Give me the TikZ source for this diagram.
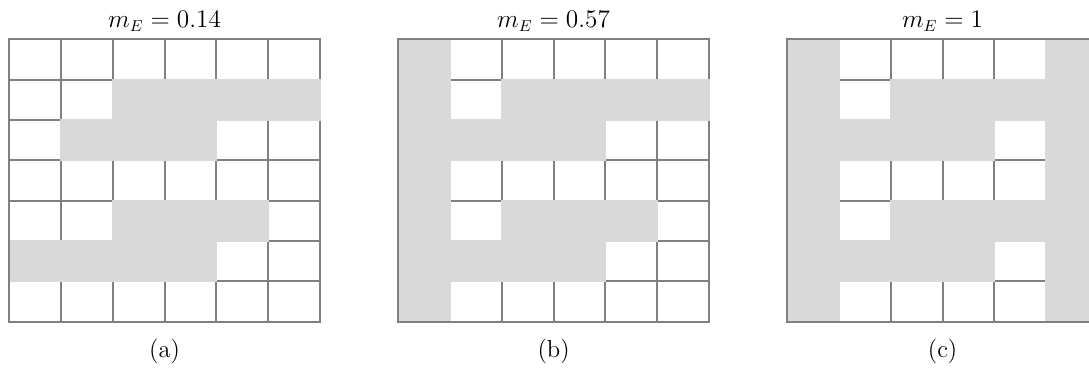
\documentclass[tikz,border=0pt]{standalone}
\usepackage{amsmath}

\definecolor{linegray}{RGB}{128,128,128}
\definecolor{cellgray}{RGB}{217,217,217}

\begin{document}
\begin{tikzpicture}[
    x=0.02cm, y=-0.02cm,
    gridline/.style={draw=linegray, line width=0.04cm, line cap=rect},
    cellfill/.style={fill=cellgray, draw=cellgray, line width=0.04cm},
    title/.style={anchor=base, font=\fontsize{13.5}{16}\selectfont},
    caption/.style={anchor=base, font=\fontsize{14}{16}\selectfont}
]
    \useasboundingbox (0,0) rectangle (1089,372);
    \clip (0,0) rectangle (1089,372);

    % one panel per entry: x offset / value / tag / gray blocks c1/c2/r1/r2
    \foreach \px/\val/\tag/\cells in {
        9.3/0.14/a/{3/6/2/2, 2/4/3/3, 3/5/5/5, 1/4/6/6},
        398.3/0.57/b/{1/1/1/7, 3/6/2/2, 1/4/3/3, 3/5/5/5, 1/4/6/6},
        787.3/1/c/{1/1/1/7, 6/6/1/7, 3/6/2/2, 1/4/3/3, 3/6/5/5, 1/4/6/6}} {
        \node[title] (title\tag) at (\px+155.3, 27.3) {$m_E = \val$};
        \node[caption] (caption\tag) at (\px+155.3, 357) {(\tag)};
        \begin{scope}[shift={(\px,39.3)}, x=1.0356cm, y=-0.8068cm]
            \foreach \i in {0,...,6}
                \draw[gridline] (\i,0) -- (\i,7);
            \foreach \j in {0,...,7}
                \draw[gridline] (0,\j) -- (6,\j);
            \foreach \ca/\cb/\ra/\rb in \cells
                \path[cellfill] (\ca-1,\ra-1) rectangle (\cb,\rb);
            \draw[gridline] (6,0) -- (0,0) -- (0,7) -- (6,7);
        \end{scope}
    }
\end{tikzpicture}
\end{document}
